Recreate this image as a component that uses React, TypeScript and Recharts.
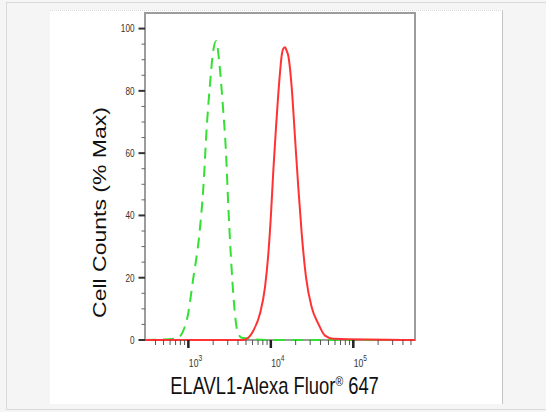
import { LineChart, Line, XAxis, YAxis, ReferenceArea } from 'recharts';

// isotype control (green dashed)
const controlX = [298, 724, 955, 1150, 1360, 1520, 1670, 1830, 1980, 2170, 2380, 2610, 2865, 3055, 3265, 3580, 3925, 4440, 10000, 60000, 560000];
const controlY = [0, 0.5, 6.3, 20, 34, 49, 68.3, 82.2, 91.9, 96, 88.7, 75.8, 59.8, 42.6, 27.7, 11.6, 3, 0.7, 0, 0, 0];

// ELAVL1 stained (red)
const stainedX = [298, 4640, 6140, 7390, 8500, 9330, 10050, 10720, 11560, 12680, 13560, 14200, 14860, 15600, 16300, 17900, 19630, 21530, 23700, 26700, 31300, 37700, 45400, 57300, 560000];
const stainedY = [0, 0, 3, 8.5, 17, 27.7, 40.5, 54.4, 68.3, 83.3, 91.5, 93.6, 94, 92.8, 91.2, 81.2, 65.1, 49, 34.1, 20.2, 10.5, 5.2, 1.4, 0.4, 0];

const xDomain = [298, 560000];
const xTicks = [400, 500, 600, 700, 800, 900, 1000, 2000, 3000, 4000, 5000, 6000, 7000, 8000, 9000, 10000, 20000, 30000, 40000, 50000, 60000, 70000, 80000, 90000, 100000, 200000, 300000, 400000, 500000];
const yTicks = [0, 5, 10, 15, 20, 25, 30, 35, 40, 45, 50, 55, 60, 65, 70, 75, 80, 85, 90, 95, 100];

const control = controlX.map((x, i) => ({ x, y: controlY[i] }));
const stained = stainedX.map((x, i) => ({ x, y: stainedY[i] }));

const FONT = "'Liberation Sans', Arial, sans-serif";

const YTick = (props: any) => {
  const { x, y, payload } = props;
  const major = payload.value % 20 === 0;
  return (
    <g>
      <line x1={x - (major ? 6.5 : 3.5)} x2={x} y1={y} y2={y} stroke={major ? '#333' : '#666'} strokeWidth={major ? 2 : 1} />
      {major && (
        <text transform={`translate(${x - 10.5},${y + 3.8}) scale(0.78,1)`} textAnchor="end" fontSize={10.5} fontFamily={FONT} fill="#333">
          {payload.value}
        </text>
      )}
    </g>
  );
};

const XTick = (props: any) => {
  const { x, y, payload } = props;
  const e = Math.round(Math.log10(payload.value));
  const major = Math.abs(Math.pow(10, e) - payload.value) < 1e-6;
  return (
    <g>
      <line x1={x} x2={x} y1={y} y2={y + (major ? 8 : 5)} stroke={major ? '#222' : '#555'} strokeWidth={major ? 2.5 : 1} />
      {major && (
        <text transform={`translate(${x + 0.5},${y + 27}) scale(0.78,1)`} fontSize={11} fontFamily={FONT} fill="#333">
          <tspan>10</tspan>
          <tspan dy={-6} fontSize={8.5}>{e}</tspan>
        </text>
      )}
    </g>
  );
};

const YTitle = (props: any) => {
  const { x, y, height } = props.viewBox;
  return (
    <text transform={`translate(${x + 11},${y + height / 2 + 36}) scale(0.8,1) rotate(-90)`} textAnchor="middle" fontSize={23} fontFamily={FONT} fill="#111">
      Cell Counts (% Max)
    </text>
  );
};

const XTitle = (props: any) => {
  const { x, y, width } = props.viewBox;
  return (
    <text transform={`translate(${x + width / 2 - 5.5},${y + 54}) scale(0.8,1)`} textAnchor="middle" fontSize={23} fontFamily={FONT} fill="#111">
      ELAVL1-Alexa Fluor
      <tspan dy={-8} fontSize={13}>®</tspan>
      <tspan dy={8}> 647</tspan>
    </text>
  );
};

export default function App() {
  return (
    <div style={{ position: 'absolute', left: 0, top: 0, width: 546, height: 412, background: '#f5f5f5', overflow: 'hidden' }}>
      <div style={{ position: 'absolute', left: 6, top: 2, width: 546, height: 408, border: '1px solid #dadada', boxSizing: 'border-box' }} />
      <div style={{ position: 'absolute', left: 50, top: 10, width: 453, height: 394, background: '#fff', borderRight: '1px solid #c4c4c4', borderTop: '1px dotted #dddddd', boxSizing: 'border-box' }} />
      <div style={{ position: 'absolute', left: 0, top: 0 }}>
        <LineChart width={546} height={412} margin={{ top: 13, right: 131, bottom: 42, left: 95 }}>
          <XAxis
            dataKey="x"
            type="number"
            scale="log"
            domain={xDomain}
            ticks={xTicks}
            interval={0}
            height={30}
            tickSize={0}
            tickMargin={0}
            axisLine={false}
            tickLine={false}
            tick={<XTick />}
            label={{ content: <XTitle /> }}
          />
          <YAxis
            type="number"
            domain={[0, 105]}
            ticks={yTicks}
            interval={0}
            width={50}
            tickSize={0}
            tickMargin={0}
            axisLine={false}
            tickLine={false}
            tick={<YTick />}
            label={{ content: <YTitle /> }}
          />
          <ReferenceArea x1={xDomain[0]} x2={xDomain[1]} y1={0} y2={105} fill="none" stroke="#9c9c9c" strokeWidth={2} />
          <Line data={control} dataKey="y" type="monotone" stroke="#33e033" strokeWidth={2} strokeDasharray="11 7" dot={false} isAnimationActive={false} />
          <Line data={stained} dataKey="y" type="monotone" stroke="#ff3333" strokeWidth={2} dot={false} isAnimationActive={false} />
        </LineChart>
      </div>
    </div>
  );
}
